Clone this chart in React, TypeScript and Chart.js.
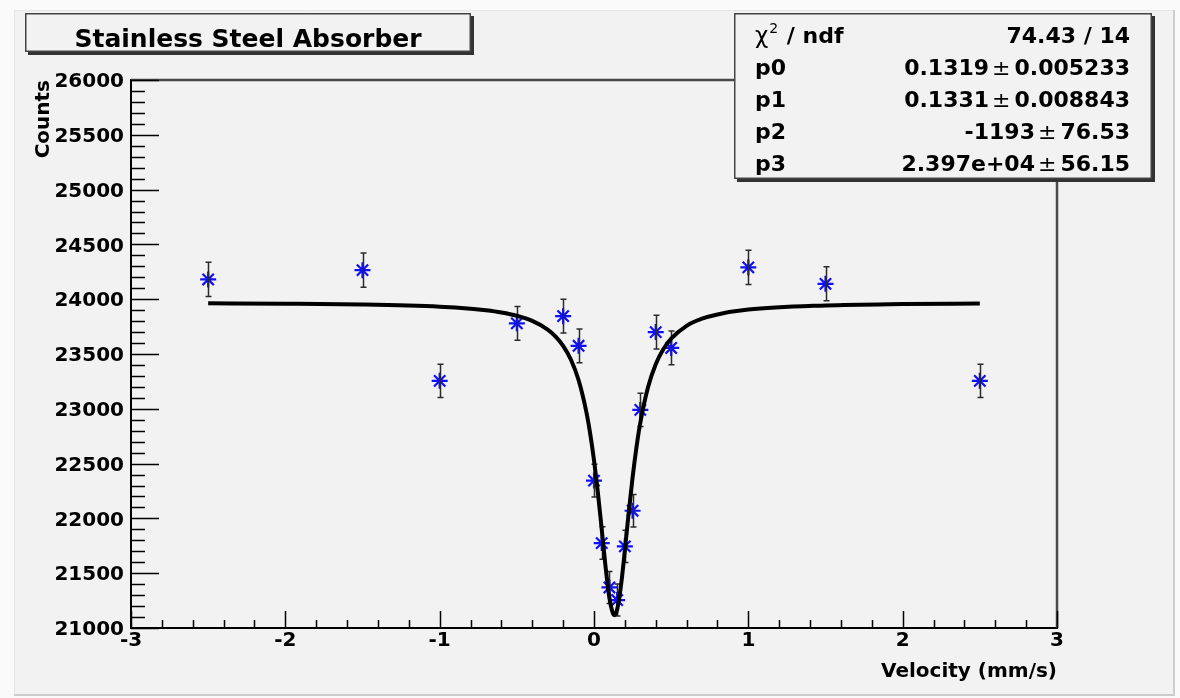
import React, { useEffect, useRef } from "react";
import { Chart, registerables } from "chart.js";

Chart.register(...registerables);

// ---- data ----
const velocity = [-2.5, -1.5, -1.0, -0.5, -0.2, -0.1, 0, 0.05, 0.1, 0.15, 0.2, 0.25, 0.3, 0.4, 0.5, 1.0, 1.5, 2.5];
const counts = [24180, 24265, 23255, 23780, 23845, 23575, 22345, 21775, 21370, 21255, 21745, 22070, 22990, 23700, 23555, 24290, 24140, 23255];
const countErrors = [156, 156, 152, 154, 154, 154, 150, 148, 146, 146, 148, 149, 152, 154, 154, 156, 155, 152];

const fitVelocity = [-2.5, -2.0, -1.5, -1.0, -0.8, -0.7, -0.6, -0.5, -0.4, -0.3, -0.25, -0.2, -0.15, -0.1, -0.05, -0.025, 0, 0.025, 0.05, 0.075, 0.1, 0.125, 0.132, 0.15, 0.175, 0.2, 0.225, 0.25, 0.275, 0.3, 0.35, 0.4, 0.45, 0.5, 0.6, 0.7, 0.8, 1.0, 1.5, 2.0, 2.5];
const fitCounts = [23963, 23959, 23951, 23931, 23913, 23899, 23879, 23849, 23802, 23723, 23661, 23575, 23450, 23263, 22975, 22776, 22531, 22236, 21901, 21558, 21272, 21125, 21117, 21169, 21388, 21709, 22054, 22374, 22647, 22871, 23196, 23406, 23545, 23640, 23757, 23822, 23861, 23905, 23943, 23956, 23961];

const xTickValues = [-3, -2, -1, 0, 1, 2, 3];
const xTickLabels = ["-3", "-2", "-1", "0", "1", "2", "3"];
const yTickValues = [21000, 21500, 22000, 22500, 23000, 23500, 24000, 24500, 25000, 25500, 26000];
const yTickLabels = ["21000", "21500", "22000", "22500", "23000", "23500", "24000", "24500", "25000", "25500", "26000"];

const titleText = "Stainless Steel Absorber";
const xTitle = "Velocity (mm/s)";
const yTitle = "Counts";
const chiLabel = "/ ndf";
const chiValue = "74.43 / 14";
const paramNames = ["p0", "p1", "p2", "p3"];
const paramValues = ["0.1319", "0.1331", "-1193", "2.397e+04"];
const paramErrors = ["0.005233", "0.008843", "76.53", "56.15"];

const FONT = "'DejaVu Sans', 'Liberation Sans', sans-serif";

const backgroundPlugin = {
  id: "rootBackground",
  beforeDraw(chart: any) {
    const ctx = chart.ctx;
    ctx.save();
    ctx.fillStyle = "#fafafa";
    ctx.fillRect(0, 0, chart.width, chart.height);
    ctx.fillStyle = "#f2f2f2";
    ctx.fillRect(14, 10, 1160, 685);
    ctx.strokeStyle = "#e6e6e6";
    ctx.lineWidth = 1;
    ctx.beginPath();
    ctx.moveTo(14.5, 695);
    ctx.lineTo(14.5, 10.5);
    ctx.lineTo(1174, 10.5);
    ctx.stroke();
    ctx.strokeStyle = "#cdcdcd";
    ctx.lineWidth = 2;
    ctx.beginPath();
    ctx.moveTo(1174, 10);
    ctx.lineTo(1174, 695);
    ctx.lineTo(14, 695);
    ctx.stroke();
    ctx.restore();
  },
};

const framePlugin = {
  id: "rootFrame",
  beforeDatasetsDraw(chart: any) {
    const { ctx, chartArea } = chart;
    const xs = chart.scales.x;
    const ys = chart.scales.y;
    const { left, right, top, bottom } = chartArea;
    ctx.save();
    ctx.strokeStyle = "#4a4a4a";
    ctx.lineWidth = 2.5;
    ctx.beginPath();
    ctx.moveTo(left, top);
    ctx.lineTo(right, top);
    ctx.lineTo(right, bottom);
    ctx.stroke();
    ctx.strokeStyle = "#000";
    ctx.lineWidth = 1.5;
    ctx.beginPath();
    for (let k = -15; k <= 15; k++) {
      const v = k / 5;
      const px = Math.round(xs.getPixelForValue(v)) + 0.5;
      const len = k % 5 === 0 ? 17 : 8;
      ctx.moveTo(px, bottom);
      ctx.lineTo(px, bottom - len);
    }
    for (let c = 21000; c <= 26000; c += 100) {
      const py = Math.round(ys.getPixelForValue(c)) + 0.5;
      const len = c % 500 === 0 ? 28 : 14;
      ctx.moveTo(left, py);
      ctx.lineTo(left + len, py);
    }
    ctx.stroke();
    ctx.restore();
  },
  afterDatasetDraw(chart: any, args: any) {
    if (args.index !== 0) return;
    const ctx = chart.ctx;
    const xs = chart.scales.x;
    const ys = chart.scales.y;
    ctx.save();
    ctx.strokeStyle = "#2a2a2a";
    ctx.lineWidth = 1.5;
    ctx.beginPath();
    velocity.forEach((v, i) => {
      const px = Math.round(xs.getPixelForValue(v)) + 0.5;
      const t = ys.getPixelForValue(counts[i] + countErrors[i]);
      const b = ys.getPixelForValue(counts[i] - countErrors[i]);
      ctx.moveTo(px, t);
      ctx.lineTo(px, b);
      ctx.moveTo(px - 3, t);
      ctx.lineTo(px + 3, t);
      ctx.moveTo(px - 3, b);
      ctx.lineTo(px + 3, b);
    });
    ctx.stroke();
    ctx.restore();
  },
};

function drawPave(ctx: CanvasRenderingContext2D, x: number, y: number, w: number, h: number) {
  ctx.fillStyle = "#333";
  ctx.fillRect(x + 3, y + 3, w, h);
  ctx.fillStyle = "#f2f2f2";
  ctx.fillRect(x, y, w, h);
  ctx.strokeStyle = "#444";
  ctx.lineWidth = 1.5;
  ctx.strokeRect(x + 0.75, y + 0.75, w - 1.5, h - 1.5);
}

const pavePlugin = {
  id: "rootPaves",
  afterDraw(chart: any) {
    const ctx: CanvasRenderingContext2D = chart.ctx;
    ctx.save();
    drawPave(ctx, 25, 13, 446, 39);
    ctx.fillStyle = "#000";
    ctx.font = `bold 25px ${FONT}`;
    ctx.textAlign = "center";
    ctx.textBaseline = "alphabetic";
    ctx.fillText(titleText, 248, 47);

    drawPave(ctx, 734, 13, 418, 166);
    const lx = 755;
    const rx = 1130;
    const baselines = [43, 75, 107, 139, 171];
    ctx.fillStyle = "#000";
    ctx.textAlign = "left";
    ctx.font = `23px ${FONT}`;
    ctx.fillText("χ", lx, baselines[0]);
    const chiW = ctx.measureText("χ").width;
    ctx.font = `14px ${FONT}`;
    ctx.fillText("2", lx + chiW + 1, baselines[0] - 10);
    const twoW = ctx.measureText("2").width;
    ctx.font = `bold 22px ${FONT}`;
    ctx.fillText(" " + chiLabel, lx + chiW + twoW + 2, baselines[0]);
    ctx.textAlign = "right";
    ctx.fillText(chiValue, rx, baselines[0]);

    paramNames.forEach((name, i) => {
      const by = baselines[i + 1];
      ctx.font = `bold 22px ${FONT}`;
      ctx.textAlign = "left";
      ctx.fillText(name, lx, by);
      ctx.textAlign = "right";
      ctx.fillText(paramErrors[i], rx, by);
      const ew = ctx.measureText(paramErrors[i]).width;
      ctx.font = `22px ${FONT}`;
      const pmX = rx - ew - 4;
      ctx.fillText("±", pmX, by);
      const pw = ctx.measureText("±").width;
      ctx.font = `bold 22px ${FONT}`;
      ctx.fillText(paramValues[i], pmX - pw - 3, by);
    });
    ctx.restore();
  },
};

export default function App() {
  const canvasRef = useRef<HTMLCanvasElement | null>(null);

  useEffect(() => {
    document.body.style.margin = "0";
    const canvas = canvasRef.current;
    if (!canvas) return;
    const tickFont = { family: FONT, size: 20, weight: "bold" as const };
    const titleFont = { family: FONT, size: 20, weight: "bold" as const };
    const chart = new Chart(canvas, {
      type: "scatter",
      data: {
        datasets: [
          {
            type: "scatter",
            label: "data",
            data: velocity.map((v, i) => ({ x: v, y: counts[i] })),
            pointStyle: "star",
            pointRadius: 8,
            pointHoverRadius: 8,
            borderColor: "#0f0fff",
            backgroundColor: "#0f0fff",
            borderWidth: 2.2,
            order: 2,
          },
          {
            type: "line",
            label: "fit",
            data: fitVelocity.map((v, i) => ({ x: v, y: fitCounts[i] })),
            borderColor: "#000",
            borderWidth: 4,
            pointRadius: 0,
            fill: false,
            cubicInterpolationMode: "monotone",
            order: 1,
          },
        ] as any,
      },
      options: {
        animation: false,
        responsive: false,
        devicePixelRatio: 1,
        events: [],
        layout: { padding: { top: 80, right: 123, left: 0, bottom: 0 } },
        plugins: {
          legend: { display: false },
          tooltip: { enabled: false },
        },
        scales: {
          x: {
            type: "linear",
            position: "bottom",
            min: -3,
            max: 3,
            grid: { display: false, drawTicks: false },
            border: { display: true, color: "#000", width: 2 },
            ticks: {
              font: tickFont,
              color: "#000",
              padding: 1,
              autoSkip: false,
              maxRotation: 0,
              callback: (value: any) => {
                const idx = xTickValues.indexOf(Number(value));
                return idx >= 0 ? xTickLabels[idx] : "";
              },
            },
            afterBuildTicks: (scale: any) => {
              scale.ticks = xTickValues.map((v) => ({ value: v }));
            },
            afterFit: (scale: any) => {
              scale.height = 70;
            },
            title: {
              display: true,
              text: xTitle,
              align: "end",
              color: "#000",
              font: titleFont,
              padding: { top: 0, bottom: 14 },
            },
          },
          y: {
            type: "linear",
            position: "left",
            min: 21000,
            max: 26000,
            grid: { display: false, drawTicks: false },
            border: { display: true, color: "#000", width: 2 },
            ticks: {
              font: tickFont,
              color: "#000",
              padding: 7,
              labelOffset: 2,
              autoSkip: false,
              callback: (value: any) => {
                const idx = yTickValues.indexOf(Number(value));
                return idx >= 0 ? yTickLabels[idx] : "";
              },
            },
            afterBuildTicks: (scale: any) => {
              scale.ticks = yTickValues.map((v) => ({ value: v }));
            },
            afterFit: (scale: any) => {
              scale.width = 131;
            },
            title: {
              display: true,
              text: yTitle,
              align: "end",
              color: "#000",
              font: titleFont,
              padding: { top: 32, bottom: 0 },
            },
          },
        },
      } as any,
      plugins: [backgroundPlugin, framePlugin, pavePlugin],
    });
    return () => chart.destroy();
  }, []);

  return (
    <div style={{ width: 1180, height: 698 }}>
      <canvas ref={canvasRef} width={1180} height={698} style={{ display: "block" }} />
    </div>
  );
}
